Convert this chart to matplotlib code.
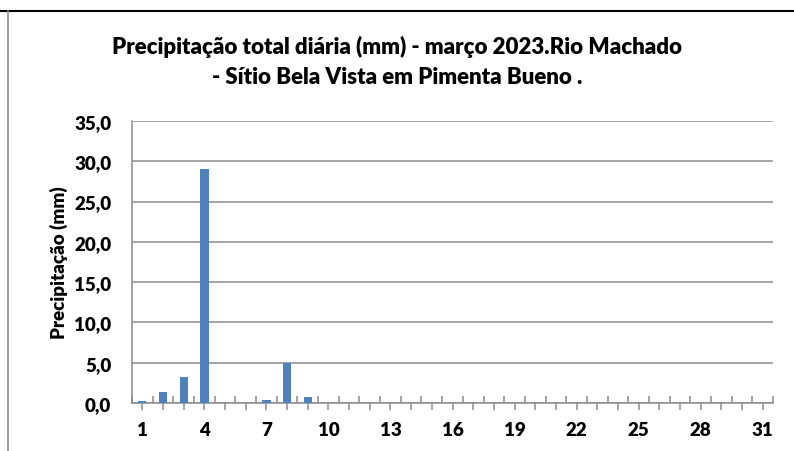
import numpy as np
import matplotlib.pyplot as plt
from matplotlib.lines import Line2D
from matplotlib.ticker import FuncFormatter, FixedLocator

plt.rcParams['font.family'] = ['Lato', 'DejaVu Sans']

# daily precipitation, March 2023 (mm)
days = list(range(1, 32))
precip = [0.3, 1.4, 3.2, 29.0, 0.0, 0.0, 0.4, 5.0, 0.7] + [0.0] * 22

fig = plt.figure(figsize=(7.94, 4.52), dpi=100)
ax = fig.add_axes([132 / 794, 1 - 404 / 452, 641 / 794, 282 / 452])

ax.bar(days, precip, width=0.4, color="#4f81bd", zorder=3)

ax.set_xlim(0.5, 31.5)
ax.set_ylim(0, 35)
ax.set_yticks(np.arange(0, 36, 5))
ax.yaxis.set_major_formatter(FuncFormatter(lambda v, p: f"{v:.1f}".replace(".", ",")))
ax.grid(axis="y", color="#8c8c8c", linewidth=1.1, zorder=0)

ax.xaxis.set_major_locator(FixedLocator(days))
ax.set_xticklabels([str(d) if d % 3 == 1 else "" for d in days])
ax.xaxis.set_minor_locator(FixedLocator(np.arange(0.5, 32, 1)))
ax.tick_params(axis="x", which="major", direction="out", length=5, color="#8c8c8c", width=1.1, pad=8)
ax.tick_params(axis="x", which="minor", direction="in", length=5, color="#8c8c8c", width=1.1)
ax.tick_params(axis="y", length=0, pad=15)

for lab in ax.get_xticklabels() + ax.get_yticklabels():
    lab.set_fontweight("heavy")
    lab.set_fontsize(13.5)

for s in ["top", "right"]:
    ax.spines[s].set_visible(False)
for s in ["left", "bottom"]:
    ax.spines[s].set_color("#8c8c8c")
    ax.spines[s].set_linewidth(1.1)

ax.set_ylabel("Precipitação (mm)", fontsize=13.5, fontweight="heavy", labelpad=4)

fig.text(0.5, 1 - 47 / 452, "Precipitação total diária (mm) - março 2023.Rio Machado",
         ha="center", va="center", fontsize=16, fontweight="heavy")
fig.text(0.5, 1 - 78 / 452, "- Sítio Bela Vista em Pimenta Bueno .",
         ha="center", va="center", fontsize=16, fontweight="heavy")

# frame lines of the surrounding document
fig.add_artist(Line2D([0, 1], [1 - 12 / 452] * 2, color="black", linewidth=1.5))
fig.add_artist(Line2D([8 / 794] * 2, [0, 1 - 12 / 452], color="#8c8c8c", linewidth=1.2))

fig.savefig("out.png", dpi=100)
